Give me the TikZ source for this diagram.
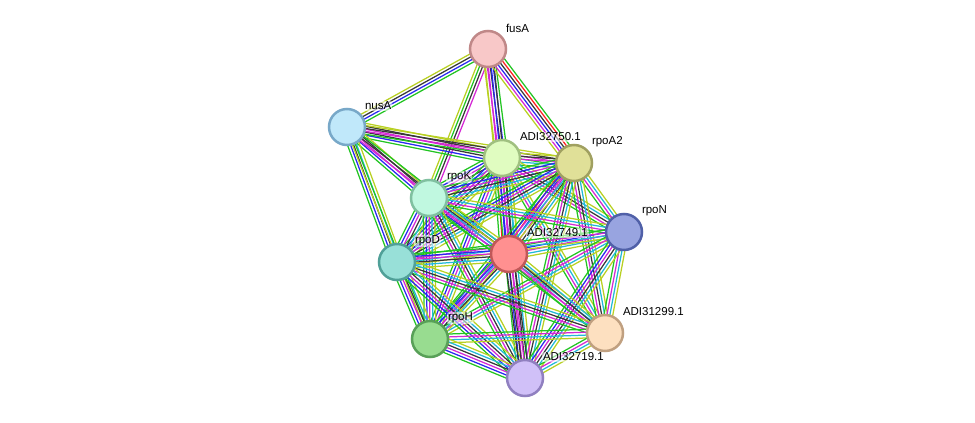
\documentclass[tikz,border=0pt]{standalone}
\usepackage{fontspec}
\setmainfont{Liberation Sans}
\usepackage{tikz}
\usetikzlibrary{positioning, calc}

\definecolor{cnb}{HTML}{22C422}
\definecolor{cfu}{HTML}{FF2020}
\definecolor{cco}{HTML}{2828F0}
\definecolor{cce}{HTML}{383838}
\definecolor{cex}{HTML}{D428D4}
\definecolor{cdb}{HTML}{22B8D8}
\definecolor{ctm}{HTML}{B8D022}

\pgfdeclarelayer{bg}
\pgfsetlayers{bg,main}

% one parallel line per evidence colour
\newcommand{\bundle}[3]{%
  \foreach \col [count=\k] in {#3} {\xdef\bundlen{\k}}%
  \foreach \col [count=\k] in {#3} {%
    \pgfmathsetmacro{\off}{(\k-(\bundlen+1)/2)*2.9}%
    \draw[link, \col] ($(#1)!\off pt!90:(#2)$) -- ($(#2)!\off pt!-90:(#1)$);
  }%
}

\begin{document}
\begin{tikzpicture}[
        x=1pt, y=-1pt,
        prot/.style={circle, line width=2.5pt, minimum size=36pt, inner sep=0pt},
        lbl/.style={anchor=west, font=\fontsize{11.5}{13}\selectfont, inner sep=0.8pt,
                    fill=white, fill opacity=0.55, text opacity=1, rounded corners=2pt},
        link/.style={line width=1.25pt}
    ]
    \useasboundingbox (0,0) rectangle (975,423);

    % ==========================================
    % 1. PROTEINS
    % ==========================================
    \node[prot, fill={rgb,255:red,248;green,200;blue,200}, draw={rgb,255:red,192;green,136;blue,136}] (fusA)  at (488,49)  {};
    \node[prot, fill={rgb,255:red,192;green,232;blue,250}, draw={rgb,255:red,120;green,168;blue,200}] (nusA)  at (347,127) {};
    \node[prot, fill={rgb,255:red,224;green,252;blue,192}, draw={rgb,255:red,160;green,192;blue,128}] (A50)   at (502,158) {};
    \node[prot, fill={rgb,255:red,224;green,224;blue,152}, draw={rgb,255:red,160;green,160;blue,96}]  (rpoA2) at (574,163) {};
    \node[prot, fill={rgb,255:red,192;green,248;blue,224}, draw={rgb,255:red,128;green,192;blue,160}] (rpoK)  at (429,198) {};
    \node[prot, fill={rgb,255:red,152;green,164;blue,224}, draw={rgb,255:red,80;green,96;blue,168}]   (rpoN)  at (624,232) {};
    \node[prot, fill={rgb,255:red,255;green,144;blue,144}, draw={rgb,255:red,192;green,88;blue,88}]   (A49)   at (509,254) {};
    \node[prot, fill={rgb,255:red,152;green,224;blue,216}, draw={rgb,255:red,80;green,160;blue,152}]  (rpoD)  at (397,262) {};
    \node[prot, fill={rgb,255:red,253;green,224;blue,192}, draw={rgb,255:red,192;green,160;blue,128}] (A99)   at (605,333) {};
    \node[prot, fill={rgb,255:red,152;green,220;blue,144}, draw={rgb,255:red,88;green,160;blue,88}]   (rpoH)  at (430,339) {};
    \node[prot, fill={rgb,255:red,208;green,192;blue,248}, draw={rgb,255:red,144;green,128;blue,192}] (A19)   at (525,378) {};

    % ==========================================
    % 2. LINKS
    % ==========================================
    \begin{pgfonlayer}{bg}
    % fusA
    \bundle{fusA}{nusA}{ctm,cce,cco,cnb}
    \bundle{fusA}{rpoK}{ctm,cnb,cce,cex}
    \bundle{fusA}{A50}{ctm,cex,cce,cco,cnb}
    \bundle{fusA}{A49}{ctm,cex,cco,cce}
    \bundle{fusA}{rpoA2}{ctm,cex,cco,cce,cfu,cnb}
    % nusA
    \bundle{nusA}{A50}{cnb,cco,cce,cex,cce,ctm}
    \bundle{nusA}{rpoA2}{cnb,cex,cce,ctm}
    \bundle{nusA}{rpoK}{cnb,cco,cex,cce,ctm}
    \bundle{nusA}{rpoD}{cnb,cco,cce,cdb,ctm}
    \bundle{nusA}{rpoH}{ctm,cnb}
    \bundle{nusA}{A49}{cex,cce,cnb}
    % ADI32750.1
    \bundle{A50}{rpoA2}{cnb,cdb,cex,cce,ctm}
    \bundle{A50}{rpoK}{cnb,cco,cex,cce,cdb,ctm}
    \bundle{A50}{rpoN}{cnb,cex,cce,cdb,ctm}
    \bundle{A50}{A49}{cnb,cfu,cco,cex,cce,cdb,ctm}
    \bundle{A50}{rpoD}{cnb,cco,cex,cce,cdb,ctm}
    \bundle{A50}{A99}{cnb,cex,cdb,ctm}
    \bundle{A50}{rpoH}{cnb,cco,cex,cdb,ctm}
    \bundle{A50}{A19}{cnb,cco,cex,cce,cdb,ctm}
    % rpoA2
    \bundle{rpoA2}{rpoK}{cnb,cco,cex,cce,cdb,ctm}
    \bundle{rpoA2}{rpoN}{cnb,cex,cdb,ctm}
    \bundle{rpoA2}{A49}{cnb,cfu,cco,cex,cce,cdb,ctm}
    \bundle{rpoA2}{rpoD}{cnb,cco,cex,cce,cdb,ctm}
    \bundle{rpoA2}{A99}{cnb,cex,cce,cdb,ctm}
    \bundle{rpoA2}{rpoH}{cnb,cco,cex,cdb,ctm}
    \bundle{rpoA2}{A19}{cnb,cex,cce,cdb,ctm}
    % rpoK
    \bundle{rpoK}{A49}{cnb,cco,cex,cce,cdb,ctm}
    \bundle{rpoK}{rpoD}{cnb,cco,cex,cce,cdb,ctm}
    \bundle{rpoK}{rpoN}{cnb,cex,cdb,ctm}
    \bundle{rpoK}{A99}{cnb,cex,cdb,ctm}
    \bundle{rpoK}{rpoH}{cnb,cco,cex,cdb,ctm}
    \bundle{rpoK}{A19}{cnb,cex,cce,cdb,ctm}
    % rpoN
    \bundle{rpoN}{A49}{cnb,cco,cex,cdb,ctm}
    \bundle{rpoN}{rpoD}{cnb,cex,cdb,ctm}
    \bundle{rpoN}{A99}{cnb,cex,cdb,ctm}
    \bundle{rpoN}{rpoH}{cnb,cex,cdb,ctm}
    \bundle{rpoN}{A19}{cnb,cco,cex,cce,cdb,ctm}
    % ADI32749.1
    \bundle{A49}{rpoD}{cnb,cco,cex,cce,cdb,ctm}
    \bundle{A49}{A99}{cnb,cex,cce,cdb,ctm}
    \bundle{A49}{rpoH}{cnb,cco,cex,cce,cdb,ctm}
    \bundle{A49}{A19}{cce,cce,cex,cce}
    % rpoD
    \bundle{rpoD}{A99}{cnb,cex,cce,cdb,ctm}
    \bundle{rpoD}{rpoH}{cnb,cco,cex,cce,cdb,ctm}
    \bundle{rpoD}{A19}{cnb,cco,cex,cce,cdb,ctm}
    % ADI31299.1, rpoH
    \bundle{A99}{rpoH}{cnb,cex,cdb,ctm}
    \bundle{A99}{A19}{cnb,cex,cdb,ctm}
    \bundle{rpoH}{A19}{cnb,cco,cex,cce,cdb,ctm}
    \end{pgfonlayer}

    % ==========================================
    % 3. LABELS
    % ==========================================
    \node[lbl] (fusAl)  at ([shift={(17pt,21pt)}]fusA.center)  {fusA};
    \node[lbl] (nusAl)  at ([shift={(17pt,21pt)}]nusA.center)  {nusA};
    \node[lbl] (A50l)   at ([shift={(17pt,21pt)}]A50.center)   {ADI32750.1};
    \node[lbl] (rpoA2l) at ([shift={(17pt,21pt)}]rpoA2.center) {rpoA2};
    \node[lbl] (rpoKl)  at ([shift={(17pt,21pt)}]rpoK.center)  {rpoK};
    \node[lbl] (rpoNl)  at ([shift={(17pt,21pt)}]rpoN.center)  {rpoN};
    \node[lbl] (A49l)   at ([shift={(17pt,21pt)}]A49.center)   {ADI32749.1};
    \node[lbl] (rpoDl)  at ([shift={(17pt,21pt)}]rpoD.center)  {rpoD};
    \node[lbl] (A99l)   at ([shift={(17pt,21pt)}]A99.center)   {ADI31299.1};
    \node[lbl] (rpoHl)  at ([shift={(17pt,21pt)}]rpoH.center)  {rpoH};
    \node[lbl] (A19l)   at ([shift={(17pt,21pt)}]A19.center)   {ADI32719.1};

    \end{tikzpicture}
\end{document}
